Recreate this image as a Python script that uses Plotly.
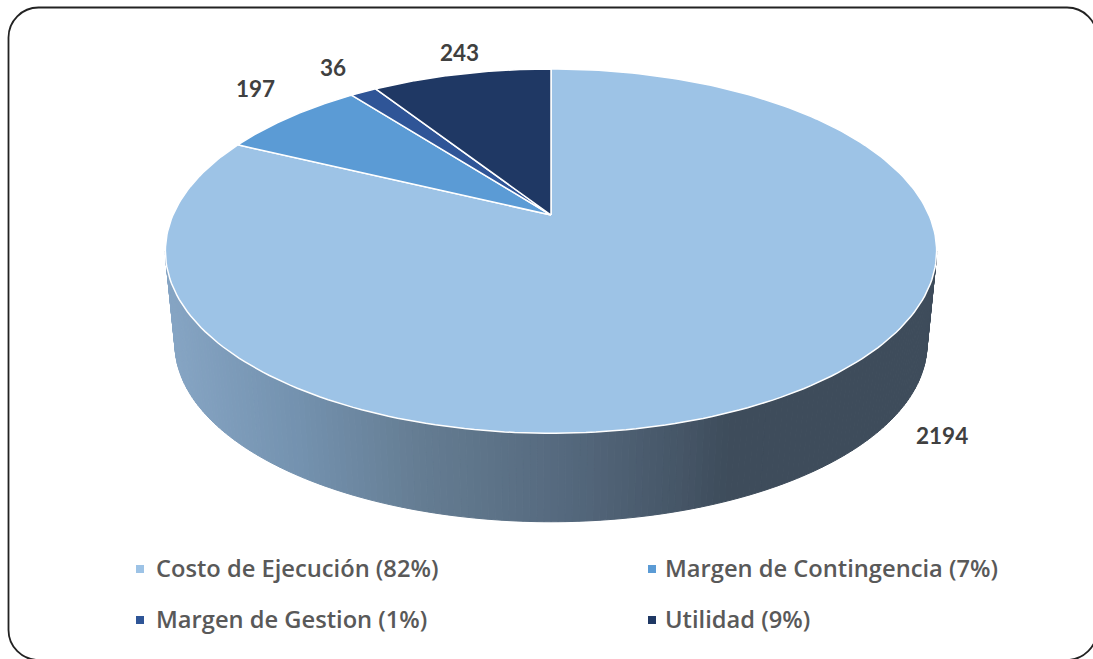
"""
Costo / margen / utilidad breakdown drawn as a tilted 3D pie.
Plotly has no 3D pie, so the slices are projected from the values onto
pixel-scaled axes and drawn as filled scatter traces.
"""

import numpy as np
import plotly.graph_objects as go

categories = ["Costo de Ejecución", "Margen de Contingencia", "Margen de Gestion", "Utilidad"]
values = [2194, 197, 36, 243]
slice_colors = ["#9DC3E6", "#5B9BD5", "#2F5597", "#1F3864"]

WIDTH, HEIGHT = 1093, 659
CX, APEX_Y = 551, 215
# Perspective of the disc: far edge is shorter than the near edge.
TILT_K, SCALE_X, SCALE_Y = 0.198, 378, 175
# Bottom rim of the wall.
RIM_SCALE, RIM_APEX_Y = 0.975, 309
TEXT_COLOR = "#404040"

# Wall shading, left to right.
wall_x = [165, 300, 420, 560, 680, 730, 940]
wall_r = [135, 116, 101, 86, 70, 62, 62]
wall_g = [166, 146, 125, 106, 86, 76, 76]
wall_b = [197, 175, 147, 127, 103, 91, 91]


def project(theta, scale=1.0, apex_y=APEX_Y):
    """Map an angle clockwise from 12 o'clock onto the tilted disc."""
    w = 1 + TILT_K * np.cos(theta)
    return (
        CX + scale * SCALE_X * np.sin(theta) / w,
        apex_y - scale * SCALE_Y * np.cos(theta) / w,
    )


fig = go.Figure()

# Side wall: thin shaded strips between top edge and bottom rim.
start = np.pi - np.arccos(TILT_K)
edges = np.linspace(start, 2 * np.pi - start, 181)
for a, b in zip(edges[:-1], edges[1:]):
    ts = np.array([a, b])
    x_top, y_top = project(ts)
    x_low, y_low = project(ts, RIM_SCALE, RIM_APEX_Y)
    mid = (x_top.mean() + x_low.mean()) / 2
    rgb = [int(np.interp(mid, wall_x, c)) for c in (wall_r, wall_g, wall_b)]
    color = f"rgb({rgb[0]},{rgb[1]},{rgb[2]})"
    fig.add_trace(go.Scatter(
        x=[x_top[0], x_top[1], x_low[1], x_low[0], x_top[0]],
        y=[y_top[0], y_top[1], y_low[1], y_low[0], y_top[0]],
        mode="lines", fill="toself", fillcolor=color,
        line=dict(color=color, width=1), hoverinfo="skip", showlegend=False,
    ))

# Top face: one filled wedge per value.
cum = np.cumsum([0] + values) / sum(values) * 2 * np.pi
for i, color in enumerate(slice_colors):
    ts = np.linspace(cum[i], cum[i + 1], 240)
    x, y = project(ts)
    fig.add_trace(go.Scatter(
        x=np.r_[CX, x, CX], y=np.r_[APEX_Y, y, APEX_Y],
        mode="lines", fill="toself", fillcolor=color,
        line=dict(color="white", width=1.5), name=categories[i], showlegend=False,
    ))

# Legend markers
legend_x = [140, 652, 140, 652]
legend_y = [569, 569, 620, 620]
fig.add_trace(go.Scatter(
    x=legend_x, y=legend_y, mode="markers",
    marker=dict(symbol="square", size=8, color=slice_colors),
    hoverinfo="skip", showlegend=False,
))

total = sum(values)
legend_text_x = [154, 663, 154, 663]
for name, val, lx, ly in zip(categories, values, legend_text_x, legend_y):
    fig.add_annotation(
        x=lx, y=ly - 1, text=f"{name} ({round(100 * val / total)}%)", showarrow=False,
        xanchor="left", yanchor="middle",
        font=dict(family="Open Sans", size=23.7, color="#595959", weight=600),
    )

# Value labels, same order as values.
label_x = [941.5, 255, 333, 459]
label_y = [435, 88, 67, 52]
for val, lx, ly in zip(values, label_x, label_y):
    fig.add_annotation(
        x=lx, y=ly, text=str(val), showarrow=False,
        font=dict(family="Lato", size=22.5, color=TEXT_COLOR, weight=700),
    )

# Rounded chart frame, its right and bottom sides fall just outside the page.
L, T, R, B, r = 8.5, 7.5, 1097, 660, 30
c = r * 0.4477
fig.add_shape(
    type="path",
    path=(f"M {L + r} {T} L {R - r} {T} C {R - c} {T} {R} {T + c} {R} {T + r} "
          f"L {R} {B - r} C {R} {B - c} {R - c} {B} {R - r} {B} "
          f"L {L + r} {B} C {L + c} {B} {L} {B - c} {L} {B - r} "
          f"L {L} {T + r} C {L} {T + c} {L + c} {T} {L + r} {T} Z"),
    line=dict(color="#222222", width=1.8),
)

fig.update_xaxes(range=[0, WIDTH], visible=False, fixedrange=True)
fig.update_yaxes(range=[HEIGHT, 0], visible=False, fixedrange=True)
fig.update_layout(
    width=WIDTH, height=HEIGHT,
    margin=dict(l=0, r=0, t=0, b=0),
    paper_bgcolor="white", plot_bgcolor="white",
    showlegend=False,
)

fig.write_html(
    "out.html",
    config={"displayModeBar": False},
    post_script="document.body.style.margin='0';document.body.style.overflow='hidden';",
)
